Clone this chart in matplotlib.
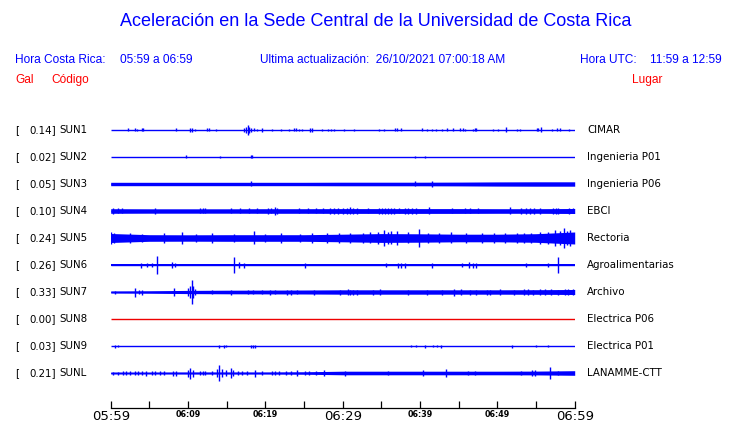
import matplotlib
matplotlib.use('Agg')
import matplotlib.pyplot as plt
import numpy as np

# ---- datos ----
codigos = ["SUN1", "SUN2", "SUN3", "SUN4", "SUN5", "SUN6", "SUN7", "SUN8", "SUN9", "SUNL"]
lugares = ["CIMAR", "Ingenieria P01", "Ingenieria P06", "EBCI", "Rectoria",
           "Agroalimentarias", "Archivo", "Electrica P06", "Electrica P01", "LANAMME-CTT"]
picos_gal = [0.14, 0.02, 0.05, 0.10, 0.24, 0.26, 0.33, 0.00, 0.03, 0.21]

# minutos desde 05:59
ticks_min = [0, 5, 10, 15, 20, 25, 30, 35, 40, 45, 50, 55, 60]
ticks_lbl = ["05:59", "", "06:09", "", "06:19", "", "06:29", "", "06:39", "", "06:49", "", "06:59"]
ticks_grandes = ["05:59", "06:29", "06:59"]

base_sun1 = []
base_sun2 = []
base_sun3 = [1.7, 1.7, 1.7, 1.7, 1.7, 1.7, 1.8, 1.8, 1.8, 1.9, 2.1, 2.2, 2.2]
base_sun4 = [2.3, 2.2, 2.2, 2.2, 2.3, 2.3, 2.4, 2.4, 2.4, 2.4, 2.3, 2.3, 2.5]
base_sun5 = [4.5, 3.3, 3.2, 3.3, 3.3, 3.3, 3.8, 4.4, 4.2, 3.8, 3.8, 4.3, 6.0]
base_sun6 = [1.4, 1.4, 1.4, 1.4, 1.4, 1.4, 1.4, 1.4, 1.4, 1.4, 1.4, 1.4, 1.4]
base_sun7 = [1.0, 1.2, 1.6, 1.8, 1.9, 2.0, 2.2, 2.2, 2.2, 2.2, 2.2, 2.3, 2.5]
base_sun8 = []
base_sun9 = []
base_sunl = [0.9, 0.9, 1.0, 1.0, 1.0, 1.2, 1.8, 1.8, 1.8, 1.8, 1.8, 1.9, 2.3]

# eventos: (minuto, semi-amplitud en px)
ev_sun1 = [(2.2, 1.5), (3.1, 1.5), (3.4, 1), (4.1, 1.5), (4.2, 1.5), (8.5, 1.5), (10.3, 2), (10.5, 2),
           (10.9, 1), (12.5, 1.5), (12.7, 1.5), (13.6, 1), (17.3, 2), (17.5, 3), (17.7, 5), (17.9, 3),
           (18.1, 2), (18.5, 1.5), (18.9, 1), (19.5, 2), (20.9, 1), (22.0, 1), (23.0, 1), (23.7, 1.5),
           (23.9, 1.5), (24.3, 1), (24.8, 1), (25.8, 2), (26.0, 2), (27.3, 1), (28.1, 1), (28.5, 1),
           (28.9, 1), (30.2, 1), (31.5, 0.7), (34.7, 1), (35.4, 1), (36.8, 1.5), (37.0, 1.5),
           (37.5, 1.5), (40.2, 1.5), (40.9, 1), (41.5, 1), (42.0, 1), (42.8, 1), (43.5, 1.5),
           (44.3, 1.5), (45.2, 1.5), (45.5, 1.5), (45.8, 1), (46.8, 1), (47.1, 1.5), (47.3, 1.5),
           (49.4, 1), (50.1, 1), (51.1, 2.5), (52.6, 1), (52.9, 1), (55.1, 1.5), (55.3, 1.5),
           (55.6, 2.5), (57.0, 1), (57.7, 1.5), (58.1, 1.5), (59.3, 1)]
ev_sun2 = [(9.7, 1.5), (14.1, 1), (18.1, 1.5), (18.3, 1.5), (39.4, 1), (40.7, 1)]
ev_sun3 = [(18.1, 2.5), (39.4, 2.5), (41.5, 3)]
ev_sun4 = [(0.3, 3), (1.0, 2.5), (1.4, 2.5), (5.7, 3), (11.6, 2.5), (11.9, 2.5), (12.2, 2.5),
           (15.6, 2.5), (16.7, 2.5), (17.9, 2.5), (18.9, 2.5), (20.3, 3), (20.7, 2.5), (21.2, 4),
           (21.5, 3), (24.3, 2.5), (25.5, 2.5), (26.6, 2.5), (27.5, 2.5), (28.4, 3), (28.9, 3),
           (29.4, 3), (30.0, 3), (30.5, 3), (30.9, 3.5), (31.3, 3), (31.8, 3), (33.3, 2.5), (34.7, 3),
           (35.1, 3), (35.5, 3), (35.9, 3), (36.3, 3), (36.6, 3), (37.3, 2.5), (38.0, 3), (38.5, 3),
           (39.0, 3), (39.5, 3), (41.1, 3.5), (44.1, 2.5), (45.8, 2.5), (46.5, 2.5), (47.5, 2.5),
           (51.6, 3.5), (53.1, 3), (53.7, 3), (54.2, 3), (54.8, 3), (55.5, 3), (57.2, 3), (57.6, 3),
           (57.9, 3), (59.2, 3), (59.8, 2.5)]
ev_sun5 = [(0.1, 6), (0.4, 5), (2.5, 4.5), (4.0, 4), (6.9, 5), (9.2, 6), (11.0, 4), (13.1, 4.5),
           (16.0, 4), (18.5, 6.5), (20.0, 4), (22.0, 4.5), (24.5, 4), (26.0, 5), (28.0, 4.5),
           (29.5, 4.5), (31.0, 5), (32.6, 5), (33.5, 5.5), (34.6, 6), (35.3, 8), (35.8, 6),
           (36.2, 6.5), (37.0, 7), (38.4, 5.5), (39.9, 9), (41.0, 5), (42.5, 5), (44.0, 5.5),
           (46.0, 5), (48.0, 4.5), (49.5, 5), (51.0, 5), (52.5, 4.5), (53.5, 5), (54.3, 5),
           (55.5, 6), (56.6, 6), (57.5, 8), (58.1, 7), (58.6, 9.5), (59.0, 7), (59.4, 8)]
ev_sun6 = [(3.9, 2.5), (4.7, 2), (5.3, 2), (6.0, 8.7), (7.9, 3.3), (8.3, 2), (15.9, 8.3),
           (16.6, 3), (17.2, 2.5), (25.1, 2.5), (35.6, 2), (37.2, 2.5), (37.6, 2.5), (38.0, 2.5),
           (41.5, 2.5), (45.4, 2), (46.3, 3), (46.9, 2.5), (47.3, 2.5), (53.7, 2), (56.6, 2),
           (57.8, 8)]
ev_sun7 = [(0.6, 1.5), (3.1, 4.5), (3.6, 2), (4.1, 2.5), (8.2, 4), (10.0, 4), (10.3, 6), (10.5, 12),
           (10.7, 6), (10.9, 3), (13.1, 2), (15.6, 2.5), (17.7, 2), (18.4, 2), (19.5, 2),
           (20.6, 2.5), (21.3, 2), (22.8, 2.5), (23.3, 2.5), (24.1, 2), (26.3, 2.5), (29.7, 2.5),
           (30.7, 3), (31.0, 2.5), (31.3, 2.5), (31.8, 2.5), (33.9, 2.5), (34.8, 3), (38.4, 2.5),
           (40.9, 2.5), (42.8, 2.5), (44.4, 3.5), (45.3, 3), (46.4, 2.5), (47.3, 2.5), (48.6, 2.5),
           (49.1, 2.5), (50.4, 3), (52.1, 2.5), (53.4, 3), (54.0, 3), (54.6, 2.5), (55.5, 3),
           (56.1, 3), (56.9, 3), (57.9, 2.5), (58.7, 3), (59.1, 3), (59.8, 3)]
ev_sun8 = []
ev_sun9 = [(0.6, 1.5), (1.0, 1), (14.0, 1.5), (14.6, 1.5), (14.9, 1), (18.1, 1.5), (18.4, 1.5),
           (18.7, 1.5), (38.8, 1), (39.5, 1), (40.7, 1.5), (41.7, 1), (42.2, 1), (42.7, 1.5),
           (51.9, 1.5), (55.0, 1), (56.5, 1)]
ev_sunl = [(0.3, 1.5), (1.0, 1.5), (1.6, 2), (2.0, 2), (2.5, 2), (3.1, 2), (3.5, 2), (4.0, 2),
           (4.6, 2.5), (5.4, 2), (5.7, 2), (6.4, 2), (6.9, 2), (8.1, 2.5), (8.5, 2.5), (10.0, 3.5),
           (10.3, 5.5), (10.6, 3.5), (11.5, 2), (11.9, 2), (12.2, 2), (13.1, 2), (13.7, 4),
           (14.0, 8), (14.4, 4), (14.9, 3), (15.5, 5), (15.8, 3), (16.5, 2), (17.0, 2),
           (17.6, 2), (18.7, 3.5), (19.5, 2), (20.8, 2), (21.2, 2), (21.7, 2), (22.7, 2),
           (23.3, 2), (24.1, 3), (25.1, 2), (25.6, 2), (26.6, 2), (27.6, 3), (30.3, 2.5),
           (35.9, 2), (40.4, 3), (43.3, 4), (46.2, 2), (47.1, 2), (53.1, 2), (54.5, 3),
           (54.9, 3), (56.8, 6), (57.9, 2)]

bases = [base_sun1, base_sun2, base_sun3, base_sun4, base_sun5,
         base_sun6, base_sun7, base_sun8, base_sun9, base_sunl]
eventos = [ev_sun1, ev_sun2, ev_sun3, ev_sun4, ev_sun5,
           ev_sun6, ev_sun7, ev_sun8, ev_sun9, ev_sunl]

AZUL = '#0000ff'
ROJO = '#ee0000'
W, H = 740, 423
ESP = 27.0  # separacion entre trazas en px

fig = plt.figure(figsize=(W / 100, H / 100), dpi=100)

# ejes de las trazas (en px de la figura)
x0, x1 = 110.7, 574.7
ytop, ybot = 116.5, 408.0
ax = fig.add_axes([x0 / W, 1 - ybot / H, (x1 - x0) / W, (ybot - ytop) / H])
ax.set_xlim(0, 60)
ax.set_ylim(9 + 35 / ESP, -0.5)

for i in range(len(codigos)):
    col = ROJO if picos_gal[i] == 0 else AZUL
    ax.plot([ticks_min[0], ticks_min[-1]], [i, i], color=col, lw=1.0, solid_capstyle='butt')
    if bases[i]:
        b = np.array(bases[i]) / ESP
        ax.fill_between(ticks_min, i - b, i + b, color=col, lw=0)
    if eventos[i]:
        t, a = zip(*eventos[i])
        a = np.array(a) / ESP
        ax.vlines(t, i - a, i + a, color=col, lw=1.0)

# eje de tiempo
for s in ['top', 'left', 'right']:
    ax.spines[s].set_visible(False)
ax.spines['bottom'].set_linewidth(0.9)
ax.set_yticks([])
ax.set_xticks(ticks_min)
ax.set_xticklabels(ticks_lbl)
ax.tick_params(axis='x', direction='in', length=4.8, width=0.9, pad=1.5)
for lbl in ax.get_xticklabels():
    if lbl.get_text() in ticks_grandes:
        lbl.set_fontsize(9.5)
    else:
        lbl.set_fontsize(5.8)
        lbl.set_fontweight('bold')

# etiquetas de las trazas
trans = ax.get_yaxis_transform()
fs = 7.4
for i in range(len(codigos)):
    ax.text(-0.206, i, "[", transform=trans, ha='left', va='center', fontsize=fs)
    ax.text(-0.118, i, f"{picos_gal[i]:.2f}]", transform=trans, ha='right', va='center', fontsize=fs)
    ax.text(-0.110, i, codigos[i], transform=trans, ha='left', va='center', fontsize=fs)
    ax.text(1.0265, i, lugares[i], transform=trans, ha='left', va='center', fontsize=fs)

# encabezado
hf = 'Liberation Sans'
fig.text(376 / W, 1 - 22 / H, "Aceleración en la Sede Central de la Universidad de Costa Rica",
         ha='center', va='center', color=AZUL, fontsize=13.0, family=hf)
fig.text(15 / W, 1 - 60 / H, "Hora Costa Rica:", ha='left', va='center', color=AZUL, fontsize=8.6, family=hf)
fig.text(120 / W, 1 - 60 / H, "05:59 a 06:59", ha='left', va='center', color=AZUL, fontsize=8.6, family=hf)
fig.text(260 / W, 1 - 60 / H, "Ultima actualización:  26/10/2021 07:00:18 AM", ha='left', va='center',
         color=AZUL, fontsize=8.6, family=hf)
fig.text(580 / W, 1 - 60 / H, "Hora UTC:", ha='left', va='center', color=AZUL, fontsize=8.6, family=hf)
fig.text(650 / W, 1 - 60 / H, "11:59 a 12:59", ha='left', va='center', color=AZUL, fontsize=8.6, family=hf)
fig.text(15 / W, 1 - 80 / H, "Gal", ha='left', va='center', color='red', fontsize=8.6, family=hf)
fig.text(51 / W, 1 - 80 / H, "Código", ha='left', va='center', color='red', fontsize=8.6, family=hf)
fig.text(662 / W, 1 - 80 / H, "Lugar", ha='right', va='center', color='red', fontsize=8.6, family=hf)

fig.savefig('out.png', dpi=100)
